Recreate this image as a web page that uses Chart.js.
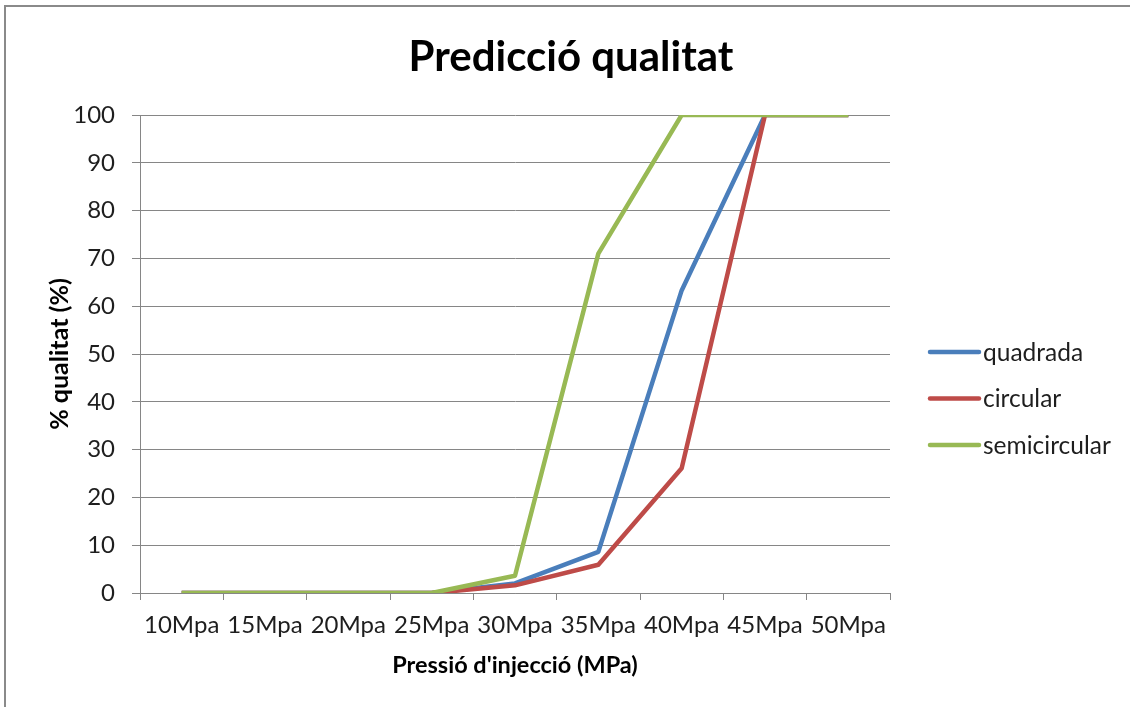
<!DOCTYPE html>
<html>
<head>
<meta charset="utf-8">
<title>Predicció qualitat</title>
<script src="https://cdn.jsdelivr.net/npm/chart.js@4/dist/chart.umd.min.js"></script>
<style>
  html, body { margin: 0; padding: 0; background: #ffffff; }
  #wrap { width: 1130px; height: 707px; position: relative; }
</style>
</head>
<body>
<div id="wrap"><canvas id="chart" width="1130" height="707"></canvas></div>
<script>
// Injection pressure categories
const categories = ['10Mpa', '15Mpa', '20Mpa', '25Mpa', '30Mpa', '35Mpa', '40Mpa', '45Mpa', '50Mpa'];

// Predicted quality (%) for each cross-section shape
const quadrada     = [0, 0, 0, 0, 2.0, 8.6, 63.3, 100, 100];
const circular     = [0, 0, 0, 0, 1.6, 5.9, 26.1, 100, 100];
const semicircular = [0, 0, 0, 0, 3.6, 71.0, 100, 100, 100];

const seriesNames = ['quadrada', 'circular', 'semicircular'];
const seriesColors = ['#4A7EBB', '#BE4B48', '#98B954'];

const chartTitle = 'Predicció qualitat';
const xTitle = "Pressió d'injecció (MPa)";
const yTitle = '% qualitat (%)';

const FONT = 'Lato, "Open Sans", "Liberation Sans", sans-serif';
const GRID = '#868686';
const TEXT = '#1e1e1e';

// Frame, heading and the side legend
const decorations = {
  id: 'decorations',
  beforeDraw(chart) {
    const ctx = chart.ctx;
    ctx.save();
    ctx.fillStyle = '#ffffff';
    ctx.fillRect(0, 0, chart.width, chart.height);
    ctx.strokeStyle = '#8a8a8a';
    ctx.lineWidth = 2;
    ctx.beginPath();
    ctx.moveTo(5, chart.height + 5);
    ctx.lineTo(5, 6);
    ctx.lineTo(chart.width + 5, 6);
    ctx.stroke();
    ctx.restore();
  },
  afterDraw(chart) {
    const ctx = chart.ctx;
    ctx.save();
    ctx.fillStyle = '#000000';
    ctx.font = 'bold 42px ' + FONT;
    ctx.textAlign = 'center';
    ctx.textBaseline = 'alphabetic';
    ctx.fillText(chartTitle, 571, 71);

    chart.data.datasets.forEach((ds, i) => {
      const y = 352 + i * 46.5;
      ctx.strokeStyle = ds.borderColor;
      ctx.lineWidth = 4.5;
      ctx.lineCap = 'round';
      ctx.beginPath();
      ctx.moveTo(930, y);
      ctx.lineTo(979, y);
      ctx.stroke();
      ctx.fillStyle = TEXT;
      ctx.font = '24.5px ' + FONT;
      ctx.textAlign = 'left';
      ctx.textBaseline = 'middle';
      ctx.fillText(ds.label, 983, y + 1);
    });
    ctx.restore();
  }
};

const seriesValues = [quadrada, circular, semicircular];

new Chart(document.getElementById('chart'), {
  type: 'line',
  data: {
    labels: categories,
    datasets: seriesNames.map((name, i) => ({
      label: name,
      data: seriesValues[i],
      // later series are painted over earlier ones
      order: seriesNames.length - i,
      borderColor: seriesColors[i],
      backgroundColor: seriesColors[i],
      borderWidth: 4.5,
      borderJoinStyle: 'round',
      pointRadius: 0,
      pointHoverRadius: 0,
      tension: 0,
      fill: false
    }))
  },
  plugins: [decorations],
  options: {
    responsive: false,
    animation: false,
    devicePixelRatio: 1,
    layout: { padding: { top: 115, right: 240, bottom: 0, left: 0 } },
    plugins: {
      legend: { display: false },
      title: { display: false },
      tooltip: { enabled: false }
    },
    scales: {
      x: {
        offset: true,
        afterFit(scale) { scale.height = 114; },
        grid: {
          offset: true,
          drawOnChartArea: false,
          drawTicks: true,
          tickLength: 7,
          color: GRID,
          tickColor: GRID
        },
        border: { display: true, color: GRID, width: 1 },
        ticks: {
          autoSkip: false,
          maxRotation: 0,
          minRotation: 0,
          padding: 11,
          color: TEXT,
          font: { family: FONT, size: 24 }
        },
        title: {
          display: true,
          text: xTitle,
          color: '#000000',
          font: { family: FONT, size: 23.5, weight: 'bold' },
          padding: { top: 0, bottom: 27 }
        }
      },
      y: {
        min: 0,
        max: 100,
        afterFit(scale) { scale.width = 140; },
        grid: {
          color: GRID,
          tickColor: GRID,
          lineWidth: 1,
          drawTicks: true,
          tickLength: 8
        },
        border: { display: true, color: GRID, width: 1 },
        ticks: {
          stepSize: 10,
          padding: 17,
          color: TEXT,
          font: { family: FONT, size: 24 }
        },
        title: {
          display: true,
          text: yTitle,
          color: '#000000',
          font: { family: FONT, size: 25, weight: 'bold' },
          padding: { top: 45, bottom: 0 }
        }
      }
    }
  }
});
</script>
</body>
</html>
